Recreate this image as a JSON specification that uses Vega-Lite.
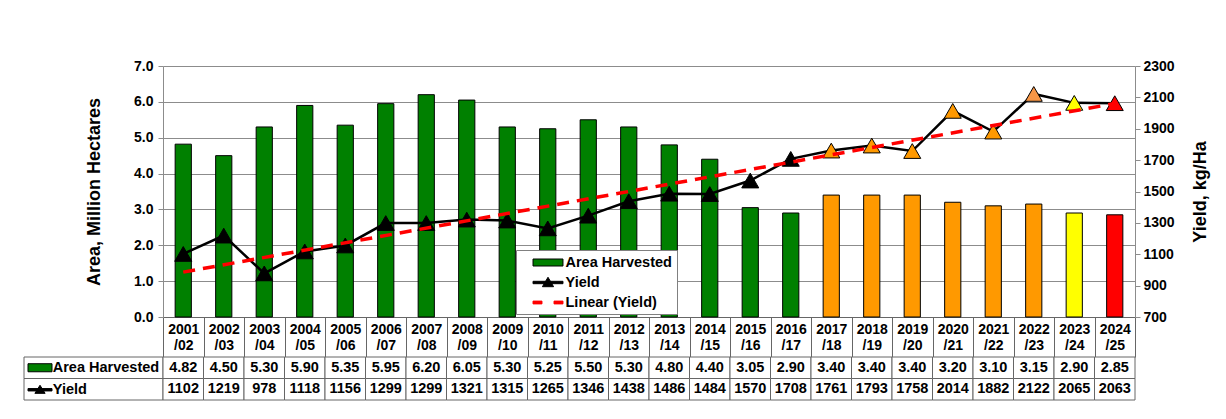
{
  "$schema": "https://vega.github.io/schema/vega-lite/v6.json",
  "background": "white",
  "padding": {"left": 23, "top": 59, "right": 5, "bottom": 5},
  "config": {
    "font": "Liberation Sans",
    "view": {"stroke": null},
    "axis": {"labelFont": "Liberation Sans", "labelFontWeight": "bold", "labelFontSize": 14, "labelColor": "#000000", "titleFont": "Liberation Sans", "titleFontWeight": "bold", "titleFontSize": 18, "titleColor": "#000000", "domainColor": "#808080", "tickColor": "#808080", "gridColor": "#8c8c8c"}
  },
  "datasets": {
    "crop": [
      {"season": "2001/02", "area": 4.82, "yield": 1102},
      {"season": "2002/03", "area": 4.50, "yield": 1219},
      {"season": "2003/04", "area": 5.30, "yield": 978},
      {"season": "2004/05", "area": 5.90, "yield": 1118},
      {"season": "2005/06", "area": 5.35, "yield": 1156},
      {"season": "2006/07", "area": 5.95, "yield": 1299},
      {"season": "2007/08", "area": 6.20, "yield": 1299},
      {"season": "2008/09", "area": 6.05, "yield": 1321},
      {"season": "2009/10", "area": 5.30, "yield": 1315},
      {"season": "2010/11", "area": 5.25, "yield": 1265},
      {"season": "2011/12", "area": 5.50, "yield": 1346},
      {"season": "2012/13", "area": 5.30, "yield": 1438},
      {"season": "2013/14", "area": 4.80, "yield": 1486},
      {"season": "2014/15", "area": 4.40, "yield": 1484},
      {"season": "2015/16", "area": 3.05, "yield": 1570},
      {"season": "2016/17", "area": 2.90, "yield": 1708},
      {"season": "2017/18", "area": 3.40, "yield": 1761},
      {"season": "2018/19", "area": 3.40, "yield": 1793},
      {"season": "2019/20", "area": 3.40, "yield": 1758},
      {"season": "2020/21", "area": 3.20, "yield": 2014},
      {"season": "2021/22", "area": 3.10, "yield": 1882},
      {"season": "2022/23", "area": 3.15, "yield": 2122},
      {"season": "2023/24", "area": 2.90, "yield": 2065},
      {"season": "2024/25", "area": 2.85, "yield": 2063}
    ],
    "trend": [
      {"season": "2001/02", "trend": 986},
      {"season": "2024/25", "trend": 2061}
    ],
    "legend": [
      {"series": "Area Harvested"},
      {"series": "Yield"},
      {"series": "Linear (Yield)"}
    ],
    "rows": [
      {"row": "Area Harvested"},
      {"row": "Yield"}
    ]
  },
  "columns": 2,
  "align": "each",
  "bounds": "flush",
  "spacing": {"row": 40, "column": 0},
  "resolve": {"scale": {"x": "independent", "y": "independent", "color": "independent", "fill": "independent", "shape": "independent", "stroke": "independent"}},
  "concat": [
    {
      "width": 139,
      "height": 251,
      "data": {"name": "rows"},
      "mark": {"type": "text", "text": ""}
    },
    {
      "width": 972,
      "height": 251,
      "data": {"name": "crop"},
      "layer": [
        {
          "mark": {"type": "bar", "width": {"band": 0.4}, "stroke": "#000000", "strokeWidth": 1},
          "encoding": {
            "x": {
              "field": "season", "type": "nominal", "sort": null,
              "scale": {"type": "band", "domain": ["2001/02","2002/03","2003/04","2004/05","2005/06","2006/07","2007/08","2008/09","2009/10","2010/11","2011/12","2012/13","2013/14","2014/15","2015/16","2016/17","2017/18","2018/19","2019/20","2020/21","2021/22","2022/23","2023/24","2024/25"], "paddingInner": 0, "paddingOuter": 0},
              "axis": {"title": null, "orient": "bottom", "labelAngle": 0, "tickBand": "extent", "tickSize": 40, "tickColor": "#666666", "domainColor": "#666666", "labelExpr": "[slice(datum.label, 0, 4), slice(datum.label, 4)]", "labelPadding": -35, "labelBaseline": "top", "labelLineHeight": 16, "labelFlush": false, "labelOverlap": false}
            },
            "y": {
              "field": "area", "type": "quantitative", "title": "Area, Million Hectares",
              "scale": {"domain": [0, 7], "nice": false},
              "axis": {"values": [0, 1, 2, 3, 4, 5, 6, 7], "format": ".1f", "grid": true, "gridColor": "#8c8c8c", "tickSize": 5, "labelPadding": 5, "titlePadding": 30, "domainColor": "#8c8c8c", "tickColor": "#8c8c8c"}
            },
            "color": {
              "field": "season", "type": "nominal",
              "scale": {
                "domain": ["2001/02","2002/03","2003/04","2004/05","2005/06","2006/07","2007/08","2008/09","2009/10","2010/11","2011/12","2012/13","2013/14","2014/15","2015/16","2016/17","2017/18","2018/19","2019/20","2020/21","2021/22","2022/23","2023/24","2024/25"],
                "range": ["#008000","#008000","#008000","#008000","#008000","#008000","#008000","#008000","#008000","#008000","#008000","#008000","#008000","#008000","#008000","#008000","#FF9900","#FF9900","#FF9900","#FF9900","#FF9900","#FF9900","#FFFF00","#FF0000"]
              },
              "legend": null
            }
          }
        },
        {
          "encoding": {"x": {"field": "season", "type": "nominal", "sort": null}},
          "layer": [
            {
              "mark": {"type": "line", "color": "#000000", "strokeWidth": 2.5},
              "encoding": {
                "y": {
                  "field": "yield", "type": "quantitative", "title": "Yield, kg/Ha",
                  "scale": {"domain": [700, 2300], "nice": false},
                  "axis": {"orient": "right", "values": [700, 900, 1100, 1300, 1500, 1700, 1900, 2100, 2300], "format": "d", "grid": false, "tickSize": 5, "labelPadding": 3, "titlePadding": 17, "titleAngle": 270, "titleBaseline": "top", "domainColor": "#8c8c8c", "tickColor": "#8c8c8c"}
                }
              }
            },
            {
              "mark": {"type": "point", "shape": "triangle-up", "filled": true, "size": 290, "stroke": "#000000", "strokeWidth": 1, "opacity": 1},
              "encoding": {
                "y": {
                  "field": "yield", "type": "quantitative", "title": "Yield, kg/Ha",
                  "axis": {"orient": "right", "values": [700, 900, 1100, 1300, 1500, 1700, 1900, 2100, 2300], "format": "d", "grid": false, "tickSize": 5, "labelPadding": 3, "titlePadding": 17, "titleAngle": 270, "titleBaseline": "top", "domainColor": "#8c8c8c", "tickColor": "#8c8c8c"}
                },
                "fill": {
                  "field": "season", "type": "nominal",
                  "scale": {
                    "domain": ["2001/02","2002/03","2003/04","2004/05","2005/06","2006/07","2007/08","2008/09","2009/10","2010/11","2011/12","2012/13","2013/14","2014/15","2015/16","2016/17","2017/18","2018/19","2019/20","2020/21","2021/22","2022/23","2023/24","2024/25"],
                    "range": ["#000000","#000000","#000000","#000000","#000000","#000000","#000000","#000000","#000000","#000000","#000000","#000000","#000000","#000000","#000000","#000000","#FF9900","#FF9900","#FF9900","#FF9900","#FF9900","#F79646","#FFFF00","#FF0000"]
                  },
                  "legend": null
                }
              }
            },
            {
              "data": {"name": "trend"},
              "mark": {"type": "line", "color": "#FF0000", "strokeWidth": 3.5, "strokeDash": [12, 8]},
              "encoding": {
                "y": {
                  "field": "trend", "type": "quantitative", "title": "Yield, kg/Ha",
                  "axis": {"orient": "right", "values": [700, 900, 1100, 1300, 1500, 1700, 1900, 2100, 2300], "format": "d", "grid": false, "tickSize": 5, "labelPadding": 3, "titlePadding": 17, "titleAngle": 270, "titleBaseline": "top", "domainColor": "#8c8c8c", "tickColor": "#8c8c8c"}
                }
              }
            }
          ]
        },
        {
          "data": {"name": "legend"},
          "mark": {"type": "point", "filled": true, "opacity": 0},
          "encoding": {
            "shape": {
              "field": "series", "type": "nominal", "sort": null,
              "scale": {"domain": ["Area Harvested", "Yield", "Linear (Yield)"], "range": ["M-2.14,-0.5H2.14V0.5H-2.14Z", "M-2.14,-0.17H2.14V0.17H-2.14Z M0,-0.75L0.8,0.6L-0.8,0.6Z", "M-2.14,-0.2H-0.86V0.2H-2.14Z M0.86,-0.2H2.14V0.2H0.86Z"]},
              "legend": {"title": null, "orient": "none", "direction": "vertical", "legendX": 353, "legendY": 184, "strokeColor": "#808080", "fillColor": "#ffffff", "padding": 5, "labelFont": "Liberation Sans", "labelFontSize": 14.5, "labelFontWeight": "bold", "labelColor": "#000000", "symbolSize": 196, "symbolStrokeWidth": 1, "symbolOpacity": 1, "symbolOffset": 19.5, "labelOffset": 10, "rowPadding": 5}
            },
            "fill": {
              "field": "series", "type": "nominal", "sort": null,
              "scale": {"domain": ["Area Harvested", "Yield", "Linear (Yield)"], "range": ["#008000", "#000000", "#FF0000"]},
              "legend": {"title": null, "orient": "none", "direction": "vertical", "legendX": 353, "legendY": 184, "strokeColor": "#808080", "fillColor": "#ffffff", "padding": 5, "labelFont": "Liberation Sans", "labelFontSize": 14.5, "labelFontWeight": "bold", "labelColor": "#000000", "symbolSize": 196, "symbolStrokeWidth": 1, "symbolOpacity": 1, "symbolOffset": 19.5, "labelOffset": 10, "rowPadding": 5}
            },
            "stroke": {
              "field": "series", "type": "nominal", "sort": null,
              "scale": {"domain": ["Area Harvested", "Yield", "Linear (Yield)"], "range": ["#000000", "#000000", "#FF0000"]},
              "legend": {"title": null, "orient": "none", "direction": "vertical", "legendX": 353, "legendY": 184, "strokeColor": "#808080", "fillColor": "#ffffff", "padding": 5, "labelFont": "Liberation Sans", "labelFontSize": 14.5, "labelFontWeight": "bold", "labelColor": "#000000", "symbolSize": 196, "symbolStrokeWidth": 1, "symbolOpacity": 1, "symbolOffset": 19.5, "labelOffset": 10, "rowPadding": 5}
            }
          }
        }
      ],
      "resolve": {"scale": {"y": "independent", "fill": "independent", "shape": "independent", "stroke": "independent"}}
    },
    {
      "width": 139,
      "height": 43,
      "data": {"name": "rows"},
      "layer": [
        {
          "mark": {"type": "rect", "fill": "#ffffff", "stroke": "#666666", "strokeWidth": 1},
          "encoding": {
            "y": {"field": "row", "type": "nominal", "sort": null, "scale": {"type": "band", "domain": ["Area Harvested", "Yield"], "paddingInner": 0, "paddingOuter": 0}, "axis": null}
          }
        },
        {
          "mark": {"type": "point", "filled": true, "opacity": 0, "stroke": "#000000", "strokeWidth": 1},
          "encoding": {
            "shape": {
              "field": "row", "type": "nominal", "sort": null,
              "scale": {"domain": ["Area Harvested", "Yield"], "range": ["M-2,-0.67H2V0.67H-2Z", "M-2,-0.2H2V0.2H-2Z M0,-0.75L0.85,0.6L-0.85,0.6Z"]},
              "legend": {"title": null, "orient": "none", "direction": "vertical", "legendX": 0, "legendY": 3.5, "padding": 0, "labelFont": "Liberation Sans", "labelFontSize": 14.5, "labelFontWeight": "bold", "labelColor": "#000000", "symbolSize": 144, "symbolStrokeWidth": 1, "symbolOpacity": 1, "symbolOffset": 8.75, "labelOffset": 5.5, "rowPadding": 7}
            },
            "fill": {
              "field": "row", "type": "nominal", "sort": null,
              "scale": {"domain": ["Area Harvested", "Yield"], "range": ["#008000", "#000000"]},
              "legend": {"title": null, "orient": "none", "direction": "vertical", "legendX": 0, "legendY": 3.5, "padding": 0, "labelFont": "Liberation Sans", "labelFontSize": 14.5, "labelFontWeight": "bold", "labelColor": "#000000", "symbolSize": 144, "symbolStrokeWidth": 1, "symbolOpacity": 1, "symbolOffset": 8.75, "labelOffset": 5.5, "rowPadding": 7}
            }
          }
        }
      ]
    },
    {
      "width": 972,
      "height": 43,
      "data": {"name": "crop"},
      "encoding": {
        "x": {
          "field": "season", "type": "nominal", "sort": null,
          "scale": {"type": "band", "domain": ["2001/02","2002/03","2003/04","2004/05","2005/06","2006/07","2007/08","2008/09","2009/10","2010/11","2011/12","2012/13","2013/14","2014/15","2015/16","2016/17","2017/18","2018/19","2019/20","2020/21","2021/22","2022/23","2023/24","2024/25"], "paddingInner": 0, "paddingOuter": 0},
          "axis": null
        }
      },
      "layer": [
        {
          "mark": {"type": "rect", "fill": "#ffffff", "stroke": "#666666", "strokeWidth": 1},
          "encoding": {"y": {"datum": "Area Harvested", "type": "nominal", "scale": {"type": "band", "domain": ["Area Harvested", "Yield"], "paddingInner": 0, "paddingOuter": 0}, "axis": null}}
        },
        {
          "mark": {"type": "rect", "fill": "#ffffff", "stroke": "#666666", "strokeWidth": 1},
          "encoding": {"y": {"datum": "Yield", "type": "nominal"}}
        },
        {
          "mark": {"type": "text", "fontSize": 14.5, "fontWeight": "bold", "color": "#000000", "font": "Liberation Sans"},
          "encoding": {"y": {"datum": "Area Harvested", "type": "nominal"}, "text": {"field": "area", "type": "quantitative", "format": ".2f"}}
        },
        {
          "mark": {"type": "text", "fontSize": 14.5, "fontWeight": "bold", "color": "#000000", "font": "Liberation Sans"},
          "encoding": {"y": {"datum": "Yield", "type": "nominal"}, "text": {"field": "yield", "type": "quantitative", "format": "d"}}
        }
      ]
    }
  ]
}
